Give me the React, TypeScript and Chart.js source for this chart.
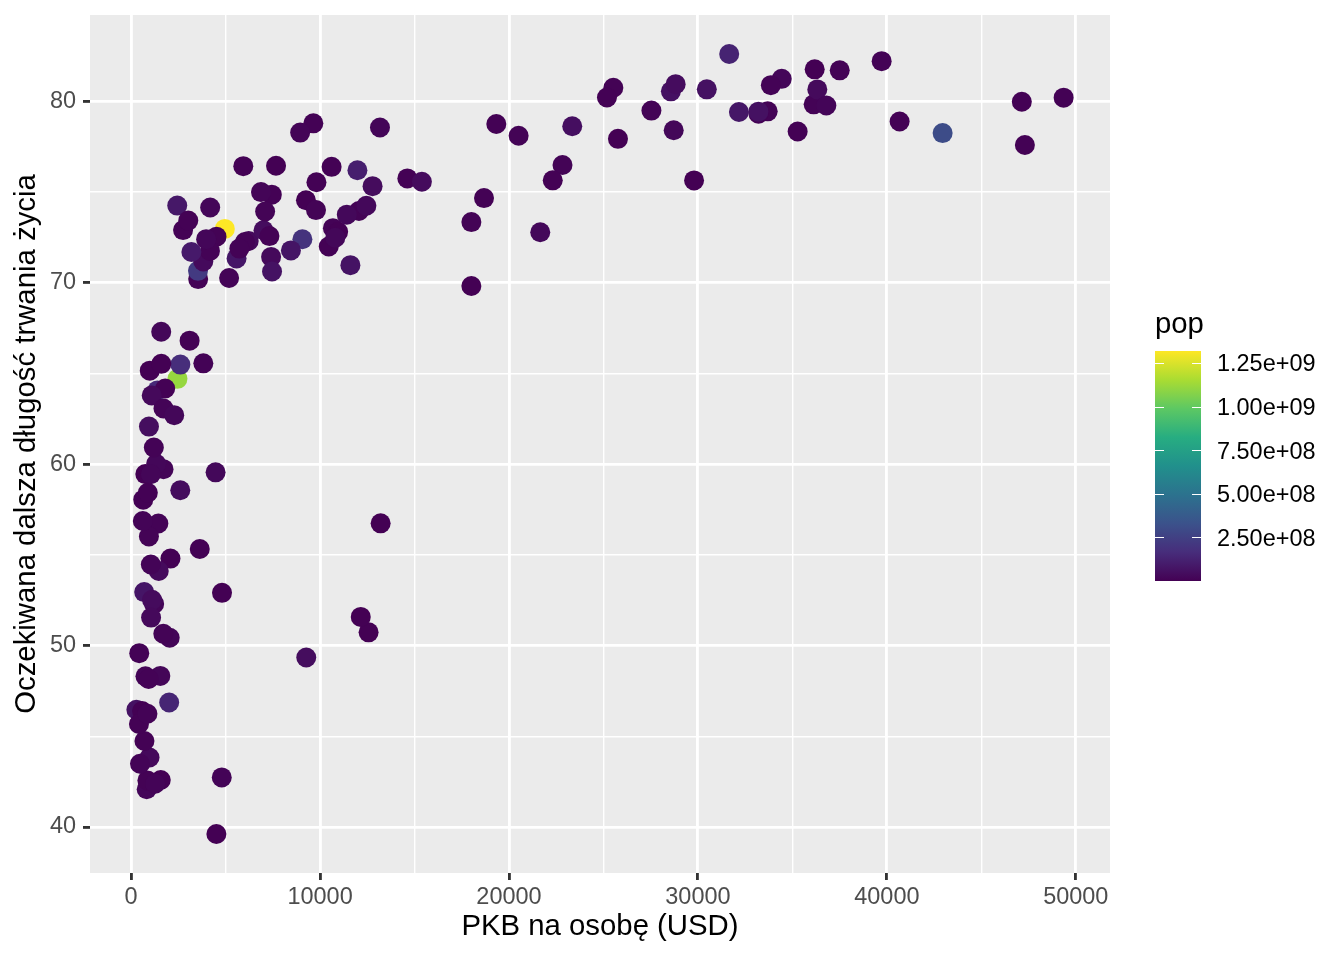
import React, { useEffect, useRef } from 'react';
import { Chart, registerables } from 'chart.js';

Chart.register(...registerables);

const countries = [
  'Afghanistan', 'Albania', 'Algeria', 'Angola', 'Argentina', 'Australia', 'Austria', 'Bahrain', 'Bangladesh', 'Belgium',
  'Benin', 'Bolivia', 'Bosnia and Herzegovina', 'Botswana', 'Brazil', 'Bulgaria', 'Burkina Faso', 'Burundi', 'Cambodia', 'Cameroon',
  'Canada', 'Central African Republic', 'Chad', 'Chile', 'China', 'Colombia', 'Comoros', 'Congo, Dem. Rep.', 'Congo, Rep.', 'Costa Rica',
  "Cote d'Ivoire", 'Croatia', 'Cuba', 'Czech Republic', 'Denmark', 'Djibouti', 'Dominican Republic', 'Ecuador', 'Egypt', 'El Salvador',
  'Equatorial Guinea', 'Eritrea', 'Ethiopia', 'Finland', 'France', 'Gabon', 'Gambia', 'Germany', 'Ghana', 'Greece',
  'Guatemala', 'Guinea', 'Guinea-Bissau', 'Haiti', 'Honduras', 'Hong Kong, China', 'Hungary', 'Iceland', 'India', 'Indonesia',
  'Iran', 'Iraq', 'Ireland', 'Israel', 'Italy', 'Jamaica', 'Japan', 'Jordan', 'Kenya', 'Korea, Dem. Rep.',
  'Korea, Rep.', 'Kuwait', 'Lebanon', 'Lesotho', 'Liberia', 'Libya', 'Madagascar', 'Malawi', 'Malaysia', 'Mali',
  'Mauritania', 'Mauritius', 'Mexico', 'Mongolia', 'Montenegro', 'Morocco', 'Mozambique', 'Myanmar', 'Namibia', 'Nepal',
  'Netherlands', 'New Zealand', 'Nicaragua', 'Niger', 'Nigeria', 'Norway', 'Oman', 'Pakistan', 'Panama', 'Paraguay',
  'Peru', 'Philippines', 'Poland', 'Portugal', 'Puerto Rico', 'Reunion', 'Romania', 'Rwanda', 'Sao Tome and Principe', 'Saudi Arabia',
  'Senegal', 'Serbia', 'Sierra Leone', 'Singapore', 'Slovak Republic', 'Slovenia', 'Somalia', 'South Africa', 'Spain', 'Sri Lanka',
  'Sudan', 'Swaziland', 'Sweden', 'Switzerland', 'Syria', 'Taiwan', 'Tanzania', 'Thailand', 'Togo', 'Trinidad and Tobago',
  'Tunisia', 'Turkey', 'Uganda', 'United Kingdom', 'United States', 'Uruguay', 'Venezuela', 'Vietnam', 'West Bank and Gaza', 'Yemen, Rep.',
  'Zambia', 'Zimbabwe',
];

const gdpPercap = [
  974.58, 5937.03, 6223.37, 4797.23, 12779.38, 34435.37, 36126.49, 29796.05, 1391.25, 33692.61,
  1441.28, 3822.14, 7446.30, 12569.85, 9065.80, 10680.79, 1217.03, 430.07, 1713.78, 2042.10,
  36319.24, 706.02, 1704.06, 13171.64, 4959.11, 7006.58, 986.15, 277.55, 3632.56, 9645.06,
  1544.75, 14619.22, 8948.10, 22833.31, 35278.42, 2082.48, 6025.37, 6873.26, 5581.18, 5728.35,
  12154.09, 641.37, 690.81, 33207.08, 30470.02, 13206.48, 752.75, 32170.37, 1327.61, 27538.41,
  5186.05, 942.65, 579.23, 1201.64, 3548.33, 39724.98, 18008.94, 36180.79, 2452.21, 3540.65,
  11605.71, 4471.06, 40676.00, 25523.28, 28569.72, 7320.88, 31656.07, 4519.46, 1463.25, 1593.07,
  23348.14, 47306.99, 10461.06, 1569.33, 414.51, 12057.50, 1044.77, 759.35, 12451.66, 1042.58,
  1803.15, 10956.99, 11977.57, 3095.77, 9253.90, 3820.18, 823.69, 944.00, 4811.06, 1091.36,
  36797.93, 25185.01, 2749.32, 619.68, 2013.98, 49357.19, 22316.19, 2605.95, 9809.19, 4172.84,
  7408.91, 3190.48, 15389.92, 20509.65, 19328.71, 7670.12, 10808.48, 863.09, 1598.44, 21654.83,
  1712.47, 9786.53, 862.54, 47143.18, 18678.31, 25768.26, 926.14, 9269.66, 28821.06, 3970.10,
  2602.39, 4513.48, 33859.75, 37506.42, 4184.55, 28718.28, 1107.48, 7458.40, 882.97, 18008.51,
  7092.92, 8458.28, 1056.38, 33203.26, 42951.65, 10611.46, 11415.81, 2441.58, 3025.35, 2280.77,
  1271.21, 469.71,
];

const lifeExp = [
  43.828, 76.423, 72.301, 42.731, 75.320, 81.235, 79.829, 75.635, 64.062, 79.441,
  56.728, 65.554, 74.852, 50.728, 72.390, 73.005, 52.295, 49.580, 59.723, 50.430,
  80.653, 44.741, 50.651, 78.553, 72.961, 72.889, 65.152, 46.462, 55.322, 78.782,
  48.328, 75.748, 78.273, 76.486, 78.332, 54.791, 72.235, 74.994, 71.338, 71.878,
  51.579, 58.040, 52.947, 79.313, 80.657, 56.735, 59.448, 79.406, 60.022, 79.483,
  70.259, 56.007, 46.388, 60.916, 70.198, 82.208, 73.338, 81.757, 64.698, 70.650,
  70.964, 59.545, 78.885, 80.745, 80.546, 72.567, 82.603, 72.535, 54.110, 67.297,
  78.623, 77.588, 71.993, 42.592, 45.678, 73.952, 59.443, 48.303, 74.241, 54.467,
  64.164, 72.801, 76.195, 66.803, 74.543, 71.164, 42.082, 62.069, 52.906, 63.785,
  79.762, 80.204, 72.899, 56.867, 46.859, 80.196, 75.640, 65.483, 75.537, 71.752,
  71.421, 71.688, 75.563, 78.098, 78.746, 76.442, 72.476, 46.242, 65.528, 72.777,
  63.062, 74.002, 42.568, 79.972, 74.663, 77.926, 48.159, 49.339, 80.941, 72.396,
  58.556, 39.613, 80.884, 81.701, 74.143, 78.400, 52.517, 70.616, 58.420, 69.819,
  73.923, 71.777, 51.542, 79.425, 78.242, 76.384, 73.747, 74.249, 73.422, 62.698,
  42.384, 43.487,
];

const pop = [
  31889923, 3600523, 33333216, 12420476, 40301927, 20434176, 8199783, 708573, 150448339, 10392226,
  8078314, 9119152, 4552198, 1639131, 190010647, 7322858, 14326203, 8390505, 14131858, 17696293,
  33390141, 4369038, 10238807, 16284741, 1318683096, 44227550, 710960, 64606759, 3800610, 4133884,
  18013409, 4493312, 11416987, 10228744, 5468120, 496374, 9319622, 13755680, 80264543, 6939688,
  551201, 4906585, 76511887, 5238460, 61083916, 1454867, 1688359, 82400996, 22873338, 10706290,
  12572928, 9947814, 1472041, 8502814, 7483763, 6980412, 9956108, 301931, 1110396331, 223547000,
  69453570, 27499638, 4109086, 6426679, 58147733, 2780132, 127467972, 6053193, 35610177, 23301725,
  49044790, 2505559, 3921278, 2012649, 3193942, 6036914, 19167654, 13327079, 24821286, 12031795,
  3270065, 1250882, 108700891, 2874127, 684736, 33757175, 19951656, 47761980, 2055080, 28901790,
  16570613, 4115771, 5675356, 12894865, 135031164, 4627926, 3204897, 169270617, 3242173, 6667147,
  28674757, 91077287, 38518241, 10642836, 3942491, 798094, 22276056, 8860588, 199579, 27601038,
  12267493, 10150265, 6144562, 4553009, 5447502, 2009245, 9118773, 43997828, 40448191, 20378239,
  42292929, 1133066, 9031088, 7554661, 19314747, 23174294, 38139640, 65068149, 5701579, 1056608,
  10276158, 71158647, 29170398, 60776238, 301139947, 3447496, 26084662, 85262356, 4018332, 22211743,
  11746035, 12311143,
];

const xMajorTicks = [0, 10000, 20000, 30000, 40000, 50000];
const xMinorTicks = [5000, 15000, 25000, 35000, 45000];
const yMajorTicks = [40, 50, 60, 70, 80];
const yMinorTicks = [45, 55, 65, 75];
const popBreaks = [250000000, 500000000, 750000000, 1000000000, 1250000000];
const popBreakLabels = ['2.50e+08', '5.00e+08', '7.50e+08', '1.00e+09', '1.25e+09'];

const xTitle = 'PKB na osobę (USD)';
const yTitle = 'Oczekiwana dalsza długość trwania życia';
const legendTitle = 'pop';

const viridisStops = ['#440154', '#472D7B', '#3B528B', '#2C728E', '#21908C', '#27AD81', '#5DC863', '#AADC32', '#FDE725'];

const FONT = "'Liberation Sans', Arial, Helvetica, sans-serif";

function hexToRgb(h: string): number[] {
  return [parseInt(h.slice(1, 3), 16), parseInt(h.slice(3, 5), 16), parseInt(h.slice(5, 7), 16)];
}

function viridis(t: number): string {
  const tt = Math.max(0, Math.min(1, t));
  const n = viridisStops.length - 1;
  const pos = tt * n;
  const i = Math.min(Math.floor(pos), n - 1);
  const f = pos - i;
  const a = hexToRgb(viridisStops[i]);
  const b = hexToRgb(viridisStops[i + 1]);
  const c = a.map((v, k) => Math.round(v + (b[k] - v) * f));
  return `rgb(${c[0]},${c[1]},${c[2]})`;
}

function expandRange(vals: number[], mult: number): [number, number] {
  const lo = Math.min(...vals);
  const hi = Math.max(...vals);
  const d = (hi - lo) * mult;
  return [lo - d, hi + d];
}

const popMin = Math.min(...pop);
const popMax = Math.max(...pop);

const colorbarPlugin = {
  id: 'colorbar',
  beforeDraw(chart: any) {
    const { ctx, chartArea } = chart;
    ctx.save();
    ctx.fillStyle = '#EBEBEB';
    ctx.fillRect(chartArea.left, chartArea.top, chartArea.right - chartArea.left, chartArea.bottom - chartArea.top);
    ctx.restore();
  },
  afterDraw(chart: any) {
    const { ctx } = chart;
    const barLeft = 1155;
    const barRight = 1201;
    const barTop = 351;
    const barBottom = 581;
    const yFor = (p: number) => barBottom - ((p - popMin) / (popMax - popMin)) * (barBottom - barTop);
    ctx.save();
    const grad = ctx.createLinearGradient(0, barBottom, 0, barTop);
    viridisStops.forEach((c, i) => grad.addColorStop(i / (viridisStops.length - 1), c));
    ctx.fillStyle = grad;
    ctx.fillRect(barLeft, barTop, barRight - barLeft, barBottom - barTop);

    ctx.strokeStyle = '#FFFFFF';
    ctx.lineWidth = 1.2;
    const tl = 9;
    popBreaks.forEach((b) => {
      const y = Math.round(yFor(b)) + 0.5;
      ctx.beginPath();
      ctx.moveTo(barLeft, y);
      ctx.lineTo(barLeft + tl, y);
      ctx.moveTo(barRight - tl, y);
      ctx.lineTo(barRight, y);
      ctx.stroke();
    });

    ctx.fillStyle = '#000000';
    ctx.font = `23.47px ${FONT}`;
    ctx.textAlign = 'left';
    ctx.textBaseline = 'middle';
    popBreaks.forEach((b, i) => {
      ctx.fillText(popBreakLabels[i], 1217, yFor(b) + 2);
    });

    ctx.font = `29.33px ${FONT}`;
    ctx.textBaseline = 'alphabetic';
    ctx.fillText(legendTitle, barLeft, 333);
    ctx.restore();
  },
};

export default function App() {
  const ref = useRef<HTMLCanvasElement | null>(null);

  useEffect(() => {
    document.body.style.margin = '0';
    const canvas = ref.current;
    if (!canvas) return;
    const [xMin, xMax] = expandRange(gdpPercap, 0.05);
    const [yMin, yMax] = expandRange(lifeExp, 0.05);
    const xAll = [...xMajorTicks, ...xMinorTicks].sort((a, b) => a - b);
    const yAll = [...yMajorTicks, ...yMinorTicks].sort((a, b) => a - b);
    const isXMajor = (v: number) => xMajorTicks.includes(v);
    const isYMajor = (v: number) => yMajorTicks.includes(v);

    const points = gdpPercap.map((g, i) => ({ x: g, y: lifeExp[i] }));
    const colors = pop.map((p) => viridis((p - popMin) / (popMax - popMin)));

    const chart = new Chart(canvas, {
      type: 'scatter',
      data: {
        labels: countries,
        datasets: [
          {
            label: 'countries',
            data: points,
            backgroundColor: colors,
            borderColor: colors,
            borderWidth: 0,
            pointRadius: 10,
            pointHoverRadius: 10,
          },
        ],
      },
      options: {
        responsive: false,
        animation: false,
        devicePixelRatio: 1,
        events: [],
        layout: { padding: { left: 0, top: 15, right: 234, bottom: 0 } },
        plugins: {
          legend: { display: false },
          tooltip: { enabled: false },
        },
        scales: {
          x: {
            type: 'linear',
            position: 'bottom',
            min: xMin,
            max: xMax,
            afterBuildTicks: (s: any) => {
              s.ticks = xAll.map((v) => ({ value: v }));
            },
            afterFit: (s: any) => {
              s.height = 87;
              s.paddingLeft = 0;
              s.paddingRight = 0;
            },
            border: { display: false },
            grid: {
              color: '#FFFFFF',
              lineWidth: (c: any) => (isXMajor(c.tick?.value) ? 2.84 : 1.42),
              drawTicks: true,
              tickLength: 7,
              tickWidth: 2.84,
              tickColor: (c: any) => (isXMajor(c.tick?.value) ? '#333333' : 'rgba(0,0,0,0)'),
            },
            ticks: {
              autoSkip: false,
              maxRotation: 0,
              padding: 3,
              color: '#4D4D4D',
              font: { family: FONT, size: 23.47 },
              callback: (v: any) => (isXMajor(Number(v)) ? String(v) : ''),
            },
            title: {
              display: true,
              text: xTitle,
              color: '#000000',
              font: { family: FONT, size: 29.33 },
              padding: { top: 0, bottom: 15 },
            },
          },
          y: {
            type: 'linear',
            position: 'left',
            min: yMin,
            max: yMax,
            afterBuildTicks: (s: any) => {
              s.ticks = yAll.map((v) => ({ value: v }));
            },
            afterFit: (s: any) => {
              s.width = 90;
              s.paddingTop = 0;
              s.paddingBottom = 0;
            },
            border: { display: false },
            grid: {
              color: '#FFFFFF',
              lineWidth: (c: any) => (isYMajor(c.tick?.value) ? 2.84 : 1.42),
              drawTicks: true,
              tickLength: 7,
              tickWidth: 2.84,
              tickColor: (c: any) => (isYMajor(c.tick?.value) ? '#333333' : 'rgba(0,0,0,0)'),
            },
            ticks: {
              autoSkip: false,
              padding: 7,
              color: '#4D4D4D',
              font: { family: FONT, size: 23.47 },
              callback: (v: any) => (isYMajor(Number(v)) ? String(v) : ''),
            },
            title: {
              display: true,
              text: yTitle,
              color: '#000000',
              font: { family: FONT, size: 29.33 },
              padding: { top: 9, bottom: 0 },
            },
          },
        },
      },
      plugins: [colorbarPlugin],
    });

    return () => {
      chart.destroy();
    };
  }, []);

  return (
    <div style={{ width: 1344, height: 960, position: 'relative' }}>
      <canvas ref={ref} width={1344} height={960} style={{ display: 'block', width: 1344, height: 960 }} />
    </div>
  );
}
